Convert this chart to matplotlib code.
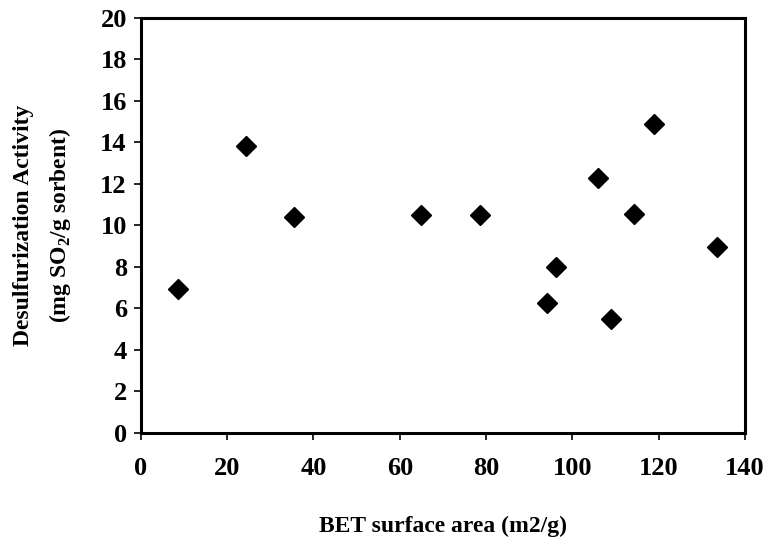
import matplotlib
matplotlib.use("Agg")
import matplotlib.pyplot as plt

# BET surface area (m2/g) vs desulfurization activity (mg SO2/g sorbent)
bet_area = [8.7, 24.4, 35.6, 65.0, 78.6, 94.1, 96.1, 106.0, 108.9, 114.2, 118.8, 133.5]
activity = [6.93, 13.8, 10.4, 10.5, 10.5, 6.26, 7.98, 12.25, 5.49, 10.55, 14.88, 8.95]

x_ticks = [0, 20, 40, 60, 80, 100, 120, 140]
y_ticks = [0, 2, 4, 6, 8, 10, 12, 14, 16, 18, 20]

plt.rcParams["font.family"] = ["Liberation Serif", "DejaVu Serif"]
plt.rcParams["font.weight"] = "bold"
plt.rcParams["mathtext.fontset"] = "custom"
plt.rcParams["mathtext.rm"] = "Liberation Serif:bold"
plt.rcParams["mathtext.bf"] = "Liberation Serif:bold"

fig = plt.figure(figsize=(7.73, 5.48), dpi=100)
ax = fig.add_axes([0.182, 0.21, 0.782, 0.758])

ax.plot(bet_area, activity, linestyle="none", marker="D", ms=10, color="black")

ax.set_xlim(0, 140)
ax.set_ylim(0, 20)
ax.set_xticks(x_ticks)
ax.set_yticks(y_ticks)
ax.tick_params(direction="out", length=5, width=1.2, labelsize=19, pad=12)
ax.tick_params(axis="y", pad=5)
for lab in ax.get_xticklabels() + ax.get_yticklabels():
    lab.set_fontweight("bold")
for sp in ax.spines.values():
    sp.set_linewidth(2.2)

ax.set_xlabel("BET surface area (m2/g)", fontsize=17, fontweight="bold", labelpad=26)
ax.set_ylabel("Desulfurization Activity\n(mg SO$_\\mathregular{2}$/g sorbent)",
              fontsize=17, fontweight="bold", labelpad=20, linespacing=1.65)

fig.savefig("out.png", dpi=100)
